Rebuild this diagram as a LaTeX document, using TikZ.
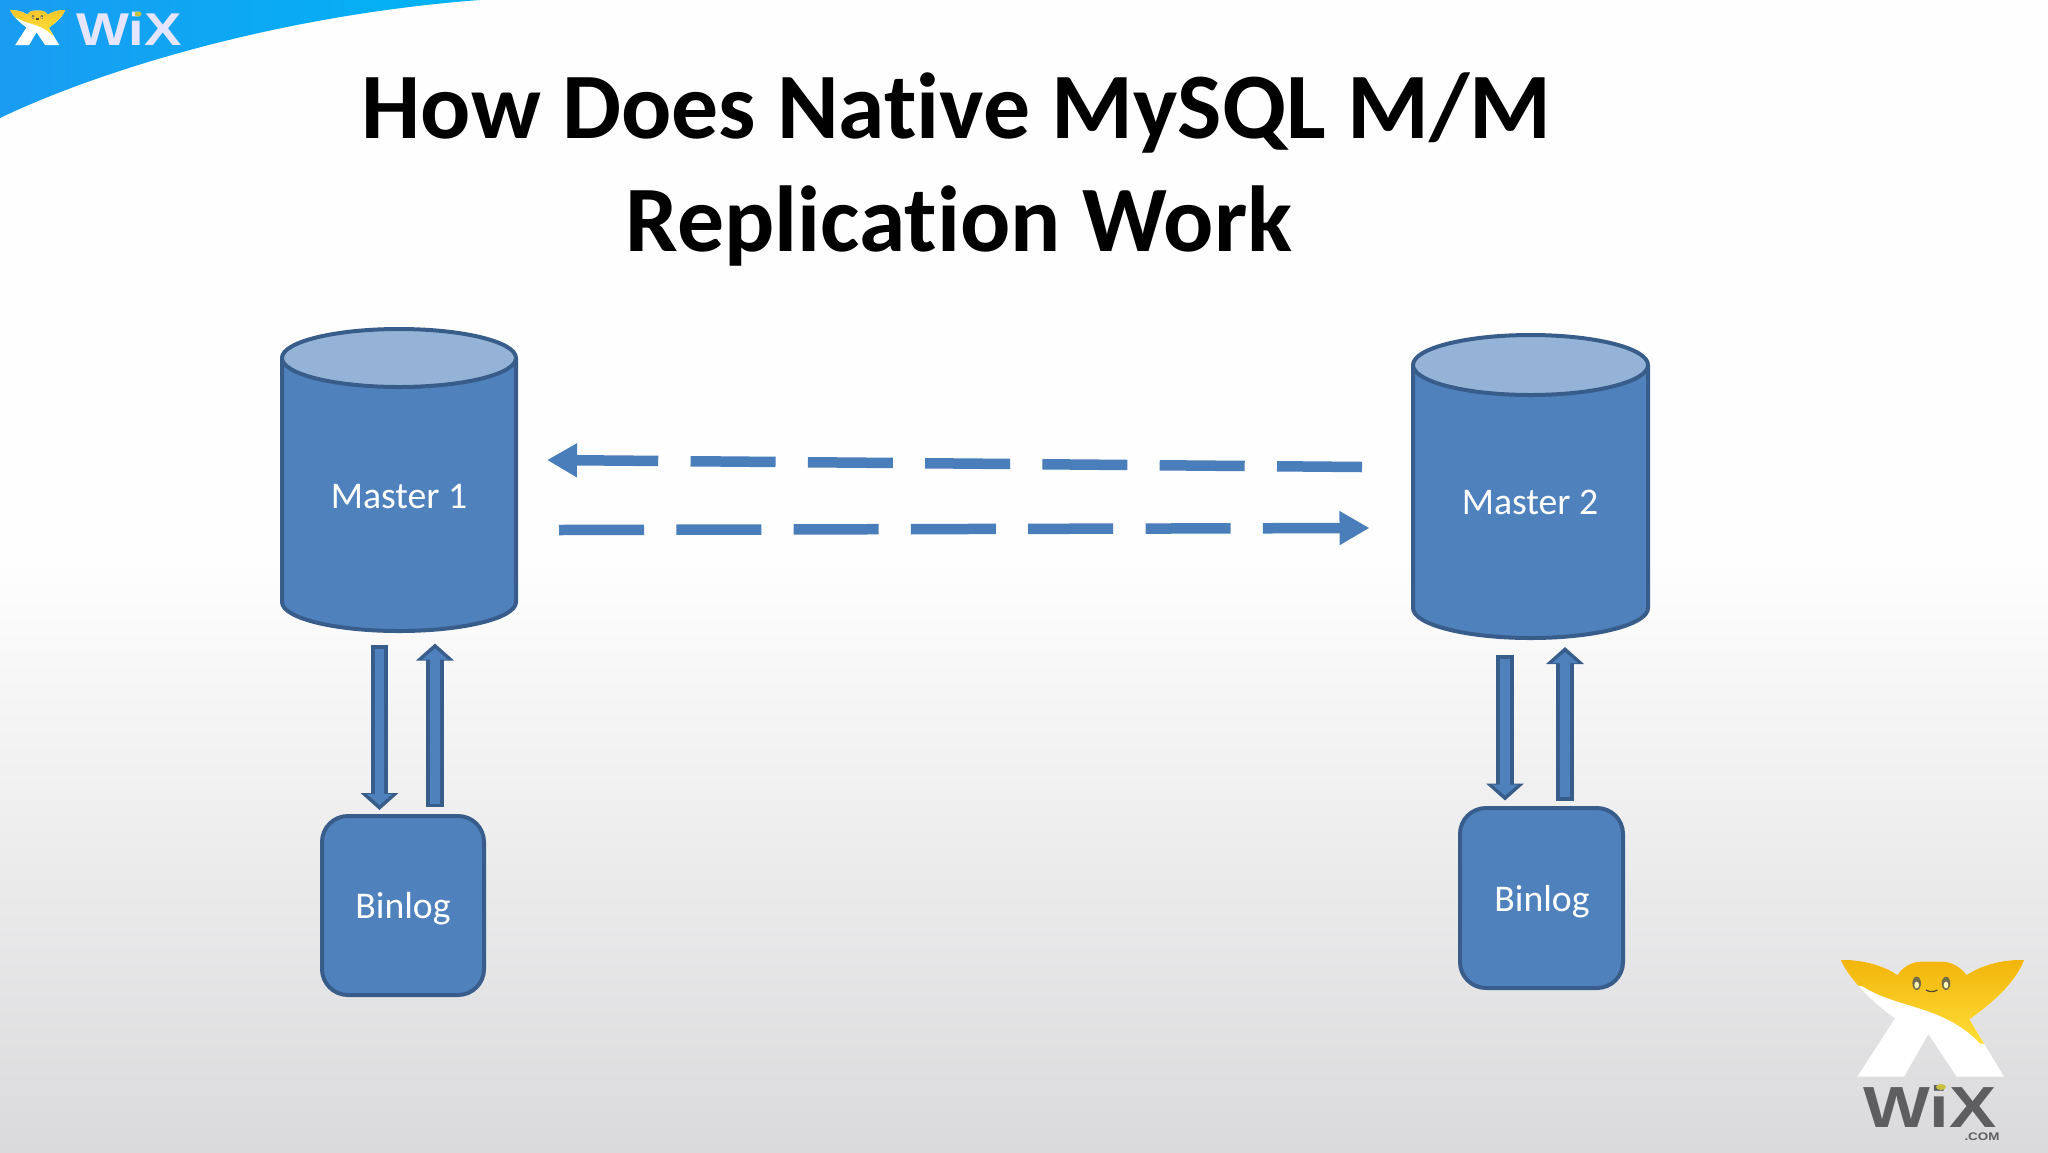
\documentclass[tikz,border=0pt]{standalone}
\usepackage{fontspec}
\setmainfont[Ligatures=NoCommon]{Carlito}
\newfontfamily\logofont[FakeStretch=1.22]{Liberation Sans}
\usetikzlibrary{arrows.meta}
\definecolor{boxfill}{HTML}{4F81BD}
\definecolor{boxedge}{HTML}{385D8A}
\definecolor{toplid}{HTML}{95B3D7}
\definecolor{dashblue}{HTML}{4A7EBB}
\definecolor{swooshL}{HTML}{1A9CF2}
\definecolor{swooshR}{HTML}{00B4F5}
\definecolor{logogrey}{HTML}{5E5E60}
\definecolor{bgtop}{HTML}{FEFEFE}
\definecolor{bgbot}{HTML}{DADADC}
\definecolor{wingtop}{HTML}{F2B50C}
\definecolor{wingtopsmall}{HTML}{F6C62A}
\definecolor{wingbot}{HTML}{FFE23A}
\definecolor{leaf}{HTML}{C8C040}
\tikzset{
  x=1pt,y=-1pt,
  shapebox/.style={fill=boxfill,draw=boxedge,line width=4pt,line join=round},
  lid/.style={fill=toplid,draw=boxedge,line width=4pt},
  label/.style={text=white,font=\fontsize{37.7}{40}\selectfont,anchor=base,inner sep=0pt},
  titletext/.style={text=black,font=\fontsize{93.7}{100}\selectfont\bfseries,anchor=base,inner sep=0pt},
  dasharrow/.style={draw=dashblue,line width=10.5pt,dash pattern=on 85pt off 32.3pt,
     -{Triangle[length=30pt,width=32pt,fill=dashblue]}},
  blockarrow/.style={draw=boxfill,line width=9.5pt,shorten >=5pt,shorten <=3.5pt,
     -{Triangle[length=11pt,width=25pt,fill=boxfill]},
     preaction={draw=boxedge,line width=17.5pt,shorten >=0pt,shorten <=0pt,
     -{Triangle[length=17pt,width=37pt,fill=boxedge]}}},
}
\newcommand{\wixmark}[1]{%
  \def\wixoutline{(122,90) .. controls (180,88) and (250,105) .. (292,135)
    .. controls (310,110) and (335,95) .. (365,95) -- (425,95)
    .. controls (455,95) and (480,110) .. (500,135)
    .. controls (545,105) and (610,88) .. (672,90)
    .. controls (650,150) and (590,210) .. (508,268)
    -- (612,440) -- (470,440) -- (385,312) -- (312,440) -- (172,440) -- (285,265)
    .. controls (215,215) and (150,150) .. (122,90) -- cycle}
  \fill[white] \wixoutline;
  \begin{scope}
    \clip \wixoutline;
    \shade[top color=#1,bottom color=wingbot]
      (100,90) -- (700,90) -- (700,360) -- (540,340)
      .. controls (430,225) and (290,235) .. (190,170) -- (100,150) -- cycle;
  \end{scope}
  \fill[black!45!olive!60!gray] (350,160) ellipse [x radius=13,y radius=20];
  \fill[black!45!olive!60!gray] (438,160) ellipse [x radius=13,y radius=20];
  \fill[white!70!yellow] (350,165) ellipse [x radius=7,y radius=10];
  \fill[white!70!yellow] (438,165) ellipse [x radius=7,y radius=10];
  \draw[black!60!olive,line width=1.2pt] (378,180) .. controls (390,187) and (400,186) .. (412,180);
}
\begin{document}
\begin{tikzpicture}
\useasboundingbox (0,0) rectangle (2048,1152);
% background
\fill[bgtop] (0,0) rectangle (2048,561);
\shade[top color=bgtop,bottom color=bgbot] (0,560) rectangle (2048,1152);
% swoosh
\shade[left color=swooshL,right color=swooshR]
  (0,0) -- (480,0) .. controls (280,15) and (100,70) .. (0,118) -- cycle;
% small logo
\begin{scope}[shift={(-2,1)},scale=0.1]
  \wixmark{wingtopsmall}
\end{scope}
\node[text=white!90!blue,font=\logofont\bfseries\fontsize{46}{46}\selectfont,anchor=base,inner sep=0pt] (smallwix) at (129,45) {WiX};
\fill[leaf] (138,14) ellipse [x radius=3.5,y radius=2.5];
% large logo
\begin{scope}[shift={(1800,930)},scale=1/3]
  \wixmark{wingtop}
\end{scope}
\node[text=logogrey,font=\logofont\bfseries\fontsize{58}{58}\selectfont,anchor=base,inner sep=0pt] (bigwix) at (1930,1127) {WiX};
\fill[leaf] (1941,1087) ellipse [x radius=5,y radius=3];
\node[text=logogrey,font=\logofont\bfseries\fontsize{11}{13}\selectfont,anchor=base,inner sep=0pt] (dotcom) at (1982,1140) {.COM};
% title
\node[titletext] (title1) at (956.5,138) {How Does Native MySQL M/M};
\node[titletext] (title2) at (959,251) {Replication Work};
% cylinder 1
\draw[shapebox] (282,358) -- (282,602) arc[start angle=180,end angle=360,x radius=117,y radius=-29] -- (516,358) -- cycle;
\draw[lid] (399,358) ellipse [x radius=117,y radius=29];
\node[label] (master1) at (399,508) {Master 1};
% cylinder 2
\draw[shapebox] (1413,365) -- (1413,608) arc[start angle=180,end angle=360,x radius=117.5,y radius=-30] -- (1648,365) -- cycle;
\draw[lid] (1530.5,365) ellipse [x radius=117.5,y radius=30];
\node[label] (master2) at (1530,514) {Master 2};
% binlogs
\draw[shapebox,rounded corners=26pt] (322,816) rectangle (484,995);
\node[label] (binlog1) at (403,918) {Binlog};
\draw[shapebox,rounded corners=26pt] (1460,808) rectangle (1623,988);
\node[label] (binlog2) at (1542,911) {Binlog};
% block arrows
\coordinate (a1s) at (379.5,645); \coordinate (a1e) at (379.5,810);
\coordinate (b1s) at (435,807);   \coordinate (b1e) at (435,643.5);
\coordinate (a2s) at (1505,655);  \coordinate (a2e) at (1505,800.5);
\coordinate (b2s) at (1565,800.5);\coordinate (b2e) at (1565,647);
\draw[blockarrow] (a1s) -- (a1e);
\draw[blockarrow] (b1s) -- (b1e);
\draw[blockarrow] (a2s) -- (a2e);
\draw[blockarrow] (b2s) -- (b2e);
% dashed replication arrows
\coordinate (d1s) at (1362,467); \coordinate (d1e) at (547,460);
\coordinate (d2s) at (559,530);  \coordinate (d2e) at (1369.5,528);
\draw[dasharrow] (d1s) -- (d1e);
\draw[dasharrow] (d2s) -- (d2e);
\end{tikzpicture}
\end{document}
